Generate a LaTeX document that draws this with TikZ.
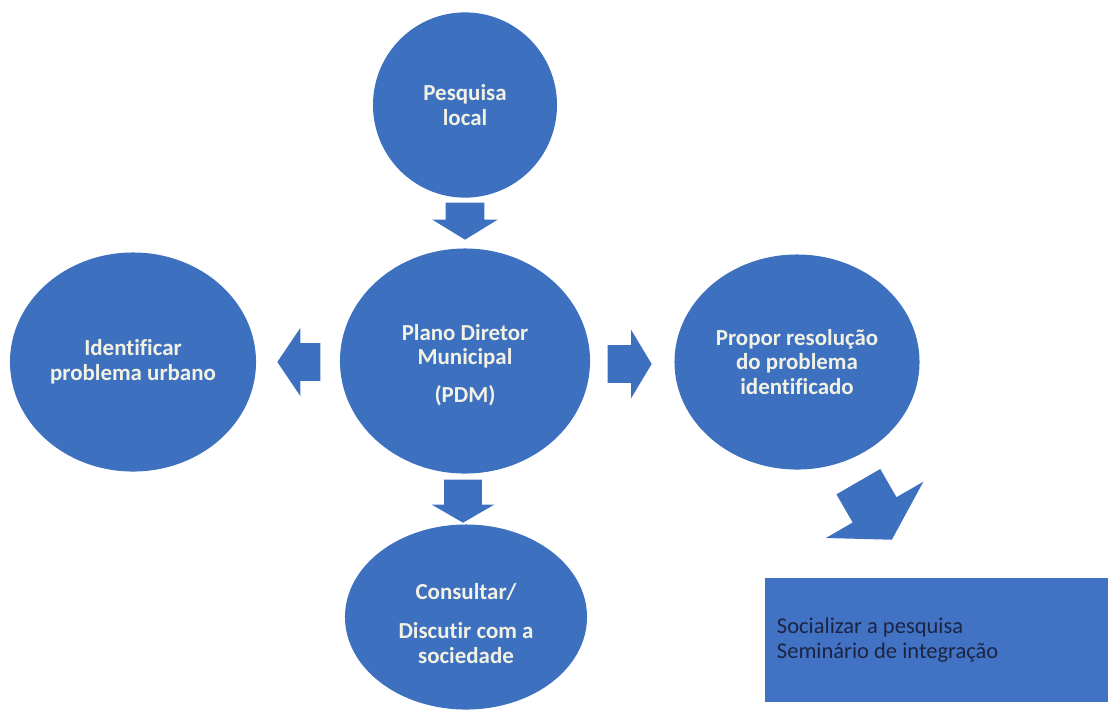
\documentclass[tikz,border=0pt]{standalone}
\usepackage{fontspec}
\setmainfont{Carlito}[Ligatures=NoCommon]
\usetikzlibrary{shapes.geometric,shapes.arrows}
\definecolor{pdmblue}{RGB}{62,112,192}
\definecolor{boxblue}{RGB}{66,114,196}
\definecolor{lighttext}{RGB}{242,242,228}
\definecolor{darktext}{RGB}{28,36,66}

\begin{document}
\begin{tikzpicture}[x=0.025cm,y=-0.025cm,
  main node/.style={ellipse,fill=pdmblue,inner sep=0pt,align=flush center,text=lighttext,
    font=\bfseries\fontsize{16.3}{17.6}\selectfont},
  block arrow/.style={single arrow,fill=pdmblue,inner xsep=0pt,anchor=tip}, ]

  \useasboundingbox (0,0) rectangle (1108,713);

  \node[main node,minimum width=4.6cm,minimum height=4.63cm] (pesquisa) at (465,105) {Pesquisa\\local};
  \node[main node,minimum width=6.25cm,minimum height=5.625cm] (pdm) at (465,361) {\rule{0pt}{17pt}Plano Diretor\\Municipal\\[9pt](PDM)};
  \node[main node,minimum width=6.15cm,minimum height=5.475cm] (identificar) at (133,362) {Identificar\\problema urbano};
  \node[main node,minimum width=6.125cm,minimum height=5.375cm] (propor) at (797,362) {Propor resolução\\do problema\\identificado};
  \node[main node,minimum width=6.05cm,minimum height=4.625cm] (consultar) at (466,617) {\rule{0pt}{21pt}Consultar/\\[10pt]Discutir com a\\sociedade};

  \node[rectangle,fill=boxblue,minimum width=8.575cm,minimum height=3.1cm,inner xsep=0.3cm,
    text width=7.975cm,align=flush left,text=darktext,font=\fontsize{16}{17.8}\selectfont]
    (socializar) at (936.5,640) {Socializar a pesquisa\\Seminário de integração};

  % setas
  \node[block arrow,rotate=-90,minimum height=0.925cm,inner ysep=0.475cm,
    single arrow head extend=0.3375cm,single arrow tip angle=117] (a1) at (465,240) {};
  \node[block arrow,rotate=180,minimum height=1.075cm,inner ysep=0.4625cm,
    single arrow head extend=0.3875cm,single arrow tip angle=112] (a2) at (277,362) {};
  \node[block arrow,minimum height=1.1cm,inner ysep=0.4625cm,
    single arrow head extend=0.3875cm,single arrow tip angle=118] (a3) at (652,364) {};
  \node[block arrow,rotate=-90,minimum height=1.075cm,inner ysep=0.4625cm,
    single arrow head extend=0.3125cm,single arrow tip angle=120] (a4) at (463,523) {};
  \node[block arrow,rotate=-60,minimum height=1.675cm,inner ysep=0.625cm,
    single arrow head extend=0.775cm,single arrow tip angle=117] (a5) at (892,540) {};
\end{tikzpicture}
\end{document}
